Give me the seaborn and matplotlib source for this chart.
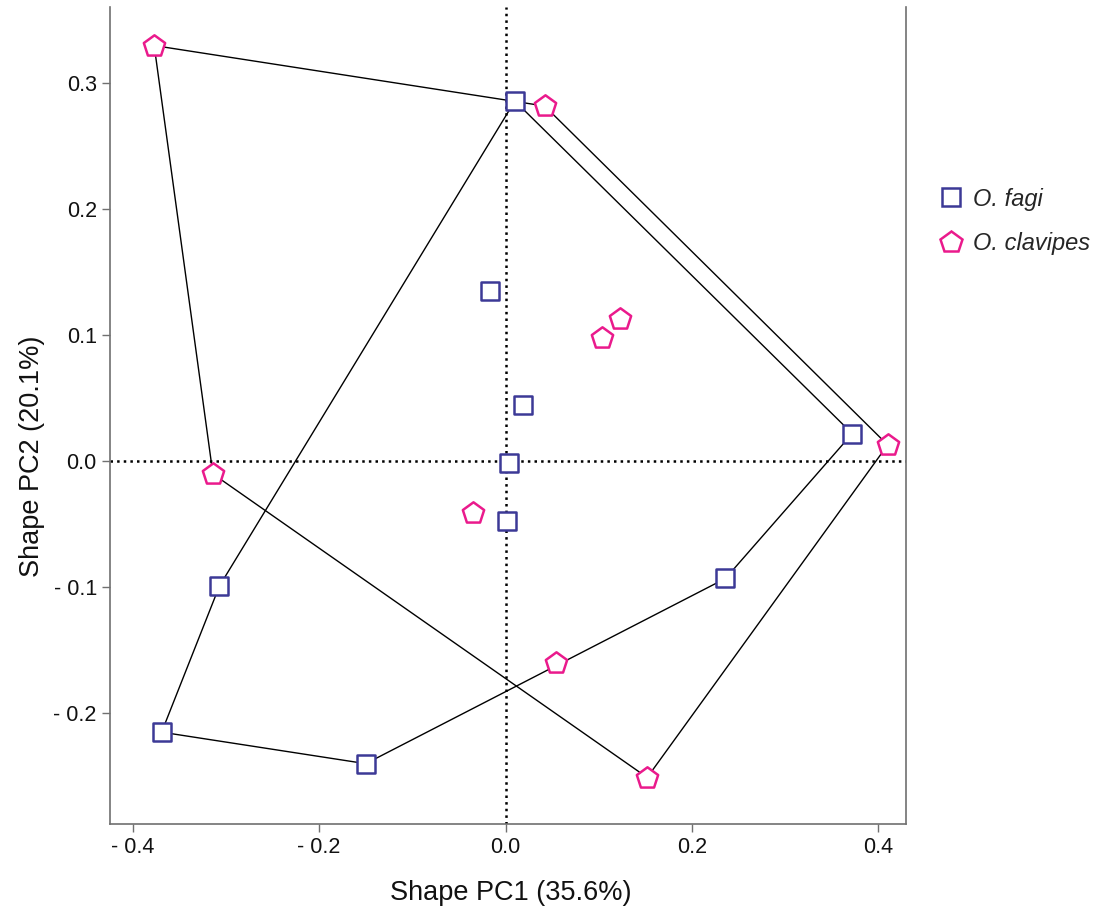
"""Shape PCA scatter of two Otiorhynchus species with convex hulls."""

import matplotlib.pyplot as plt
import numpy as np
import pandas as pd
import seaborn as sns
from matplotlib.lines import Line2D

# values
fagi_x = [0.010, -0.017, 0.019, 0.004, 0.002, 0.372, 0.236, -0.307, -0.369, -0.150]
fagi_y = [0.286, 0.135, 0.045, -0.001, -0.047, 0.022, -0.093, -0.099, -0.215, -0.240]
clav_x = [-0.377, 0.042, 0.123, 0.104, 0.410, -0.314, -0.035, 0.054, 0.152]
clav_y = [0.330, 0.282, 0.113, 0.098, 0.013, -0.010, -0.041, -0.160, -0.251]

species = ["O. fagi", "O. clavipes"]
colors = {"O. fagi": "#3c3996", "O. clavipes": "#ea1a8c"}
markers = {"O. fagi": "s", "O. clavipes": "p"}
sizes = {"O. fagi": 150, "O. clavipes": 260}

x_ticks = [-0.4, -0.2, 0.0, 0.2, 0.4]
x_tick_labels = ["- 0.4", "- 0.2", "0.0", "0.2", "0.4"]
y_ticks = [-0.2, -0.1, 0.0, 0.1, 0.2, 0.3]
y_tick_labels = ["- 0.2", "- 0.1", "0.0", "0.1", "0.2", "0.3"]


def convex_hull(xs, ys):
    """Monotone chain hull, returned closed."""
    pts = sorted(zip(xs, ys))

    def cross(o, a, b):
        return (a[0] - o[0]) * (b[1] - o[1]) - (a[1] - o[1]) * (b[0] - o[0])

    lower, upper = [], []
    for p in pts:
        while len(lower) >= 2 and cross(lower[-2], lower[-1], p) <= 0:
            lower.pop()
        lower.append(p)
    for p in reversed(pts):
        while len(upper) >= 2 and cross(upper[-2], upper[-1], p) <= 0:
            upper.pop()
        upper.append(p)
    hull = lower[:-1] + upper[:-1]
    hull.append(hull[0])
    return np.array(hull)


df = pd.concat(
    [
        pd.DataFrame({"pc1": fagi_x, "pc2": fagi_y, "species": species[0]}),
        pd.DataFrame({"pc1": clav_x, "pc2": clav_y, "species": species[1]}),
    ],
    ignore_index=True,
)

sns.set_theme(style="ticks")
plt.rcParams["font.family"] = ["Liberation Sans", "DejaVu Sans"]

fig = plt.figure(figsize=(10.99, 9.11), dpi=100)
ax = fig.add_axes([0.1001, 0.0955, 0.7243, 0.8968])

ax.axhline(0, color="black", ls=":", lw=1.8, zorder=1)
ax.axvline(0, color="black", ls=":", lw=1.8, zorder=1)

for sp in species:
    sub = df[df["species"] == sp]
    hull = convex_hull(sub["pc1"], sub["pc2"])
    ax.plot(hull[:, 0], hull[:, 1], color="black", lw=1.0, zorder=2)

for sp in species:
    sub = df[df["species"] == sp]
    sns.scatterplot(
        data=sub,
        x="pc1",
        y="pc2",
        marker=markers[sp],
        s=sizes[sp],
        facecolor="white",
        edgecolor=colors[sp],
        linewidth=1.8,
        zorder=3,
        ax=ax,
    )

ax.set_xlim(-0.4244, 0.4297)
ax.set_ylim(-0.2879, 0.3606)
ax.set_xticks(x_ticks)
ax.set_xticklabels(x_tick_labels)
ax.set_yticks(y_ticks)
ax.set_yticklabels(y_tick_labels)
ax.tick_params(labelsize=15.5, length=6, width=1.0, color="#707070", colors="#111111")

for side in ["left", "right", "bottom"]:
    ax.spines[side].set_color("#707070")
    ax.spines[side].set_linewidth(1.2)
ax.spines["top"].set_visible(False)

ax.set_xlabel("Shape PC1 (35.6%)", fontsize=19.5, color="#111111")
ax.set_ylabel("Shape PC2 (20.1%)", fontsize=19.5, color="#111111")
ax.xaxis.set_label_coords(0.504, -0.068)
ax.yaxis.set_label_coords(-0.082, 0.45)

handles = [
    Line2D([], [], ls="none", marker=markers[sp], mfc="white", mec=colors[sp],
           mew=1.8, ms=np.sqrt(sizes[sp]))
    for sp in species
]
ax.legend(
    handles,
    species,
    loc="upper left",
    bbox_to_anchor=(1.0155, 0.805),
    frameon=False,
    prop={"style": "italic", "size": 17},
    handlelength=1.0,
    handletextpad=0.42,
    labelspacing=0.9,
)

fig.savefig("out.png", dpi=100)
